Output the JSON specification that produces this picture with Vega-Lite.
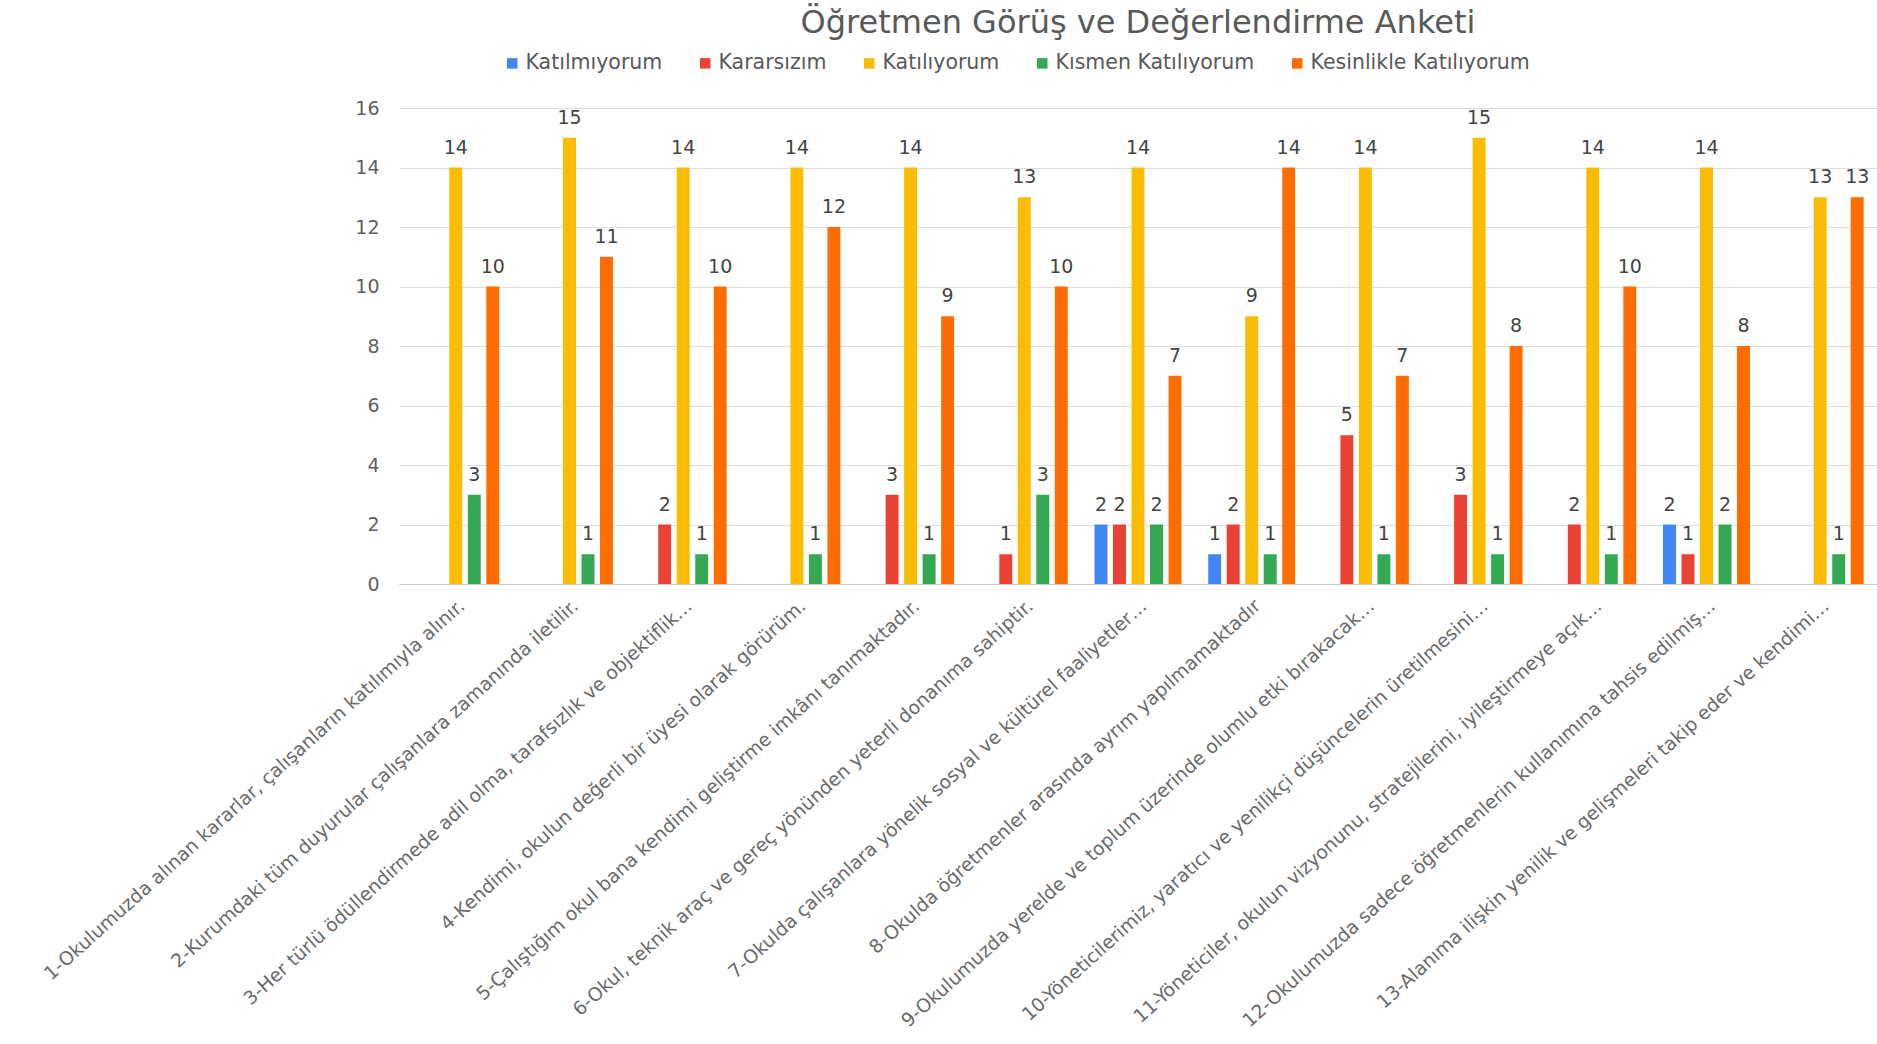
{
  "$schema": "https://vega.github.io/schema/vega-lite/v6.json",
  "width": 1478,
  "height": 476,
  "autosize": {"type": "none"},
  "padding": {"left": 399, "top": 108, "right": 0, "bottom": 460},
  "background": "white",
  "config": {
    "font": "DejaVu Sans",
    "view": {"stroke": null}
  },
  "title": {
    "text": "Öğretmen Görüş ve Değerlendirme Anketi",
    "anchor": "middle",
    "fontSize": 32,
    "font": "DejaVu Sans",
    "fontWeight": "normal",
    "color": "#595959",
    "offset": 13
  },
  "data": {
    "values": [
      {"q": "1-Okulumuzda alınan kararlar, çalışanların katılımıyla alınır.", "s": "Katılıyorum", "v": 14},
      {"q": "1-Okulumuzda alınan kararlar, çalışanların katılımıyla alınır.", "s": "Kısmen Katılıyorum", "v": 3},
      {"q": "1-Okulumuzda alınan kararlar, çalışanların katılımıyla alınır.", "s": "Kesinlikle Katılıyorum", "v": 10},
      {"q": "2-Kurumdaki tüm duyurular çalışanlara zamanında iletilir.", "s": "Katılıyorum", "v": 15},
      {"q": "2-Kurumdaki tüm duyurular çalışanlara zamanında iletilir.", "s": "Kısmen Katılıyorum", "v": 1},
      {"q": "2-Kurumdaki tüm duyurular çalışanlara zamanında iletilir.", "s": "Kesinlikle Katılıyorum", "v": 11},
      {"q": "3-Her türlü ödüllendirmede adil olma, tarafsızlık ve objektiflik…", "s": "Kararsızım", "v": 2},
      {"q": "3-Her türlü ödüllendirmede adil olma, tarafsızlık ve objektiflik…", "s": "Katılıyorum", "v": 14},
      {"q": "3-Her türlü ödüllendirmede adil olma, tarafsızlık ve objektiflik…", "s": "Kısmen Katılıyorum", "v": 1},
      {"q": "3-Her türlü ödüllendirmede adil olma, tarafsızlık ve objektiflik…", "s": "Kesinlikle Katılıyorum", "v": 10},
      {"q": "4-Kendimi, okulun değerli bir üyesi olarak görürüm.", "s": "Katılıyorum", "v": 14},
      {"q": "4-Kendimi, okulun değerli bir üyesi olarak görürüm.", "s": "Kısmen Katılıyorum", "v": 1},
      {"q": "4-Kendimi, okulun değerli bir üyesi olarak görürüm.", "s": "Kesinlikle Katılıyorum", "v": 12},
      {"q": "5-Çalıştığım okul bana kendimi geliştirme imkânı tanımaktadır.", "s": "Kararsızım", "v": 3},
      {"q": "5-Çalıştığım okul bana kendimi geliştirme imkânı tanımaktadır.", "s": "Katılıyorum", "v": 14},
      {"q": "5-Çalıştığım okul bana kendimi geliştirme imkânı tanımaktadır.", "s": "Kısmen Katılıyorum", "v": 1},
      {"q": "5-Çalıştığım okul bana kendimi geliştirme imkânı tanımaktadır.", "s": "Kesinlikle Katılıyorum", "v": 9},
      {"q": "6-Okul, teknik araç ve gereç yönünden yeterli donanıma sahiptir.", "s": "Kararsızım", "v": 1},
      {"q": "6-Okul, teknik araç ve gereç yönünden yeterli donanıma sahiptir.", "s": "Katılıyorum", "v": 13},
      {"q": "6-Okul, teknik araç ve gereç yönünden yeterli donanıma sahiptir.", "s": "Kısmen Katılıyorum", "v": 3},
      {"q": "6-Okul, teknik araç ve gereç yönünden yeterli donanıma sahiptir.", "s": "Kesinlikle Katılıyorum", "v": 10},
      {"q": "7-Okulda çalışanlara yönelik sosyal ve kültürel faaliyetler…", "s": "Katılmıyorum", "v": 2},
      {"q": "7-Okulda çalışanlara yönelik sosyal ve kültürel faaliyetler…", "s": "Kararsızım", "v": 2},
      {"q": "7-Okulda çalışanlara yönelik sosyal ve kültürel faaliyetler…", "s": "Katılıyorum", "v": 14},
      {"q": "7-Okulda çalışanlara yönelik sosyal ve kültürel faaliyetler…", "s": "Kısmen Katılıyorum", "v": 2},
      {"q": "7-Okulda çalışanlara yönelik sosyal ve kültürel faaliyetler…", "s": "Kesinlikle Katılıyorum", "v": 7},
      {"q": "8-Okulda öğretmenler arasında ayrım yapılmamaktadır", "s": "Katılmıyorum", "v": 1},
      {"q": "8-Okulda öğretmenler arasında ayrım yapılmamaktadır", "s": "Kararsızım", "v": 2},
      {"q": "8-Okulda öğretmenler arasında ayrım yapılmamaktadır", "s": "Katılıyorum", "v": 9},
      {"q": "8-Okulda öğretmenler arasında ayrım yapılmamaktadır", "s": "Kısmen Katılıyorum", "v": 1},
      {"q": "8-Okulda öğretmenler arasında ayrım yapılmamaktadır", "s": "Kesinlikle Katılıyorum", "v": 14},
      {"q": "9-Okulumuzda yerelde ve toplum üzerinde olumlu etki bırakacak…", "s": "Kararsızım", "v": 5},
      {"q": "9-Okulumuzda yerelde ve toplum üzerinde olumlu etki bırakacak…", "s": "Katılıyorum", "v": 14},
      {"q": "9-Okulumuzda yerelde ve toplum üzerinde olumlu etki bırakacak…", "s": "Kısmen Katılıyorum", "v": 1},
      {"q": "9-Okulumuzda yerelde ve toplum üzerinde olumlu etki bırakacak…", "s": "Kesinlikle Katılıyorum", "v": 7},
      {"q": "10-Yöneticilerimiz, yaratıcı ve yenilikçi düşüncelerin üretilmesini…", "s": "Kararsızım", "v": 3},
      {"q": "10-Yöneticilerimiz, yaratıcı ve yenilikçi düşüncelerin üretilmesini…", "s": "Katılıyorum", "v": 15},
      {"q": "10-Yöneticilerimiz, yaratıcı ve yenilikçi düşüncelerin üretilmesini…", "s": "Kısmen Katılıyorum", "v": 1},
      {"q": "10-Yöneticilerimiz, yaratıcı ve yenilikçi düşüncelerin üretilmesini…", "s": "Kesinlikle Katılıyorum", "v": 8},
      {"q": "11-Yöneticiler, okulun vizyonunu, stratejilerini, iyileştirmeye açık…", "s": "Kararsızım", "v": 2},
      {"q": "11-Yöneticiler, okulun vizyonunu, stratejilerini, iyileştirmeye açık…", "s": "Katılıyorum", "v": 14},
      {"q": "11-Yöneticiler, okulun vizyonunu, stratejilerini, iyileştirmeye açık…", "s": "Kısmen Katılıyorum", "v": 1},
      {"q": "11-Yöneticiler, okulun vizyonunu, stratejilerini, iyileştirmeye açık…", "s": "Kesinlikle Katılıyorum", "v": 10},
      {"q": "12-Okulumuzda sadece öğretmenlerin kullanımına tahsis edilmiş…", "s": "Katılmıyorum", "v": 2},
      {"q": "12-Okulumuzda sadece öğretmenlerin kullanımına tahsis edilmiş…", "s": "Kararsızım", "v": 1},
      {"q": "12-Okulumuzda sadece öğretmenlerin kullanımına tahsis edilmiş…", "s": "Katılıyorum", "v": 14},
      {"q": "12-Okulumuzda sadece öğretmenlerin kullanımına tahsis edilmiş…", "s": "Kısmen Katılıyorum", "v": 2},
      {"q": "12-Okulumuzda sadece öğretmenlerin kullanımına tahsis edilmiş…", "s": "Kesinlikle Katılıyorum", "v": 8},
      {"q": "13-Alanıma ilişkin yenilik ve gelişmeleri takip eder ve kendimi…", "s": "Katılıyorum", "v": 13},
      {"q": "13-Alanıma ilişkin yenilik ve gelişmeleri takip eder ve kendimi…", "s": "Kısmen Katılıyorum", "v": 1},
      {"q": "13-Alanıma ilişkin yenilik ve gelişmeleri takip eder ve kendimi…", "s": "Kesinlikle Katılıyorum", "v": 13}
    ]
  },
  "encoding": {
    "x": {
      "field": "q",
      "type": "nominal",
      "sort": null,
      "scale": {"paddingInner": 0.235, "paddingOuter": 0.117},
      "axis": {
        "title": null,
        "labelAngle": -42,
        "labelAlign": "right",
        "labelBaseline": "top",
        "labelFontSize": 18.8,
        "labelColor": "#6a6a6a",
        "labelPadding": 12,
        "labelLimit": 0,
        "ticks": false,
        "domain": true,
        "domainColor": "#cccccc",
        "grid": false
      }
    },
    "xOffset": {
      "field": "s",
      "type": "nominal",
      "sort": ["Katılmıyorum", "Kararsızım", "Katılıyorum", "Kısmen Katılıyorum", "Kesinlikle Katılıyorum"],
      "scale": {"paddingInner": 0.3, "paddingOuter": 0}
    },
    "y": {
      "field": "v",
      "type": "quantitative",
      "scale": {"domain": [0, 16], "nice": false},
      "axis": {
        "title": null,
        "values": [0, 2, 4, 6, 8, 10, 12, 14, 16],
        "labelFontSize": 19,
        "labelColor": "#5f5f5f",
        "labelPadding": 20,
        "ticks": false,
        "domain": false,
        "gridColor": "#dddddd"
      }
    }
  },
  "layer": [
    {
      "mark": {"type": "bar"},
      "encoding": {
        "color": {
          "field": "s",
          "type": "nominal",
          "scale": {
            "domain": ["Katılmıyorum", "Kararsızım", "Katılıyorum", "Kısmen Katılıyorum", "Kesinlikle Katılıyorum"],
            "range": ["#4285F4", "#EA4335", "#FBBC04", "#34A853", "#FF6D01"]
          },
          "legend": {
            "title": null,
            "orient": "none",
            "direction": "horizontal",
            "legendX": 103,
            "legendY": -55,
            "symbolType": "square",
            "symbolSize": 110,
            "symbolStrokeWidth": 0,
            "labelFontSize": 20.5,
            "labelColor": "#595959",
            "labelOffset": 3,
            "labelLimit": 0,
            "columnPadding": 32
          }
        }
      }
    },
    {
      "mark": {"type": "text", "baseline": "alphabetic", "dy": -14, "fontSize": 19, "color": "#444444"},
      "encoding": {
        "text": {"field": "v", "type": "quantitative"}
      }
    }
  ]
}
